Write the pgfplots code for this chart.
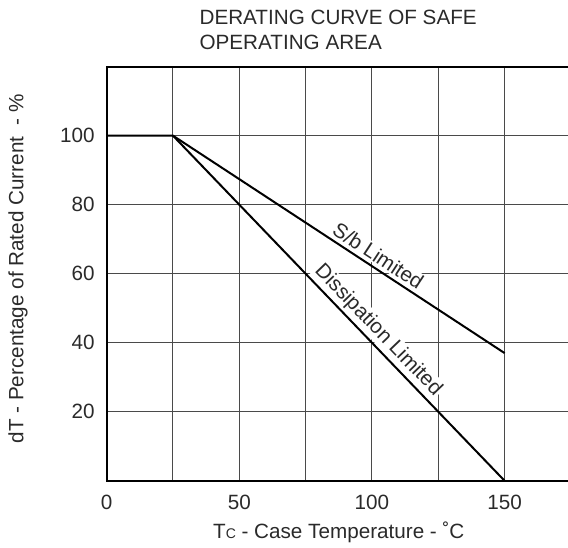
\documentclass[border=0pt]{standalone}
\usepackage{fontspec}
\setmainfont{Liberation Sans}
\usepackage{pgfplots}
\pgfplotsset{compat=1.18}

\definecolor{txt}{HTML}{2A2A2A}
\definecolor{gridc}{HTML}{4A4A4A}

\begin{document}
\fontsize{15.5}{18}\selectfont
\begin{tikzpicture}
\useasboundingbox (-80pt,-50.4pt) rectangle (346pt,360.6pt);
\begin{axis}[
    at={(0,0)}, anchor=origin,
    scale only axis,
    width=348.2pt, height=310.6pt,
    xmin=0, xmax=175, ymin=0, ymax=120,
    xtick={0,25,...,175},
    xticklabels={0,,50,,100,,150,},
    ytick={0,20,...,120},
    yticklabels={,20,40,60,80,100,},
    major tick length=0pt,
    grid=major,
    major grid style={gridc, line width=0.75pt},
    axis line style={black, line width=1.5pt},
    tick label style={font=\fontsize{15.5}{18}\selectfont, text=txt, inner sep=0pt},
    xticklabel style={anchor=north, yshift=-10.5pt},
    yticklabel style={anchor=east, xshift=-8.8pt},
    clip=false,
]
\node[rotate=-33.25, fill=white, inner sep=1pt, text=txt] at (axis cs:102.4,65.2) {S/b Limited};
\node[rotate=-46.15, fill=white, inner sep=1pt, text=txt] at (axis cs:102.3,43.6) {Dissipation Limited};

% S/b limited
\addplot[black, line width=1.5pt] coordinates {(0,100) (25,100) (150,37)};
% dissipation limited
\addplot[black, line width=1.5pt] coordinates {(25,100) (150,0)};
\end{axis}

\node[anchor=base west, inner sep=0pt, text=txt] at (69.5pt,342.4pt) {DERATING CURVE OF SAFE};
\node[anchor=base west, inner sep=0pt, text=txt] at (69.5pt,323.1pt) {OPERATING AREA};
\node[anchor=base, text=txt] at (174.1pt,-43.1pt) {T{\fontsize{10.5}{12}\selectfont C} - Case Temperature - ˚C};
\node[rotate=90, text=txt] at (-66.5pt,159pt) {dT - Percentage of Rated Current\ \ - \%};
\end{tikzpicture}
\end{document}
